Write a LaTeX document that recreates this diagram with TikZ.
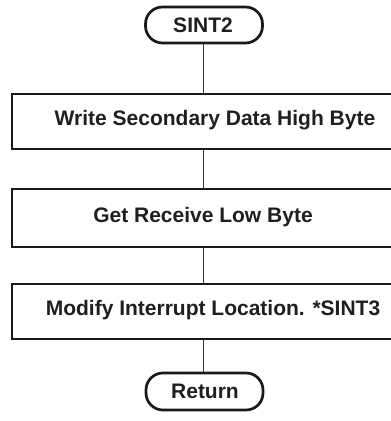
\documentclass[tikz,border=0pt]{standalone}
\usepackage{fontspec}
\setmainfont{Liberation Sans}
\begin{document}
\begin{tikzpicture}[x=1pt,y=1pt,
  terminal/.style={draw=black!90, line width=2.7pt, rounded corners=17pt,
    minimum width=117pt, minimum height=36pt, inner sep=0pt},
  procbox/.style={draw=black!90, line width=2.8pt, minimum width=382pt,
    inner sep=0pt},
  txt/.style={font=\fontsize{21}{24}\selectfont\bfseries, text=black!88, inner sep=0pt},
  flow/.style={draw=black!80, line width=0.9pt}]
  \useasboundingbox (0,0) rectangle (391,421);
  \clip (0,0) rectangle (391,421);

  % start terminal
  \node[terminal] (start) at (204,396) {};
  \node[txt] (tstart) at (203,396) {SINT2};

  % processing steps (right edges run past the frame)
  \node[procbox, minimum height=55pt] (b1) at (203,299.5) {};
  \node[txt] (t1) at (215,300.5) {Write Secondary Data High Byte};

  \node[procbox, minimum height=58pt] (b2) at (203,203) {};
  \node[txt] (t2) at (203,204) {Get Receive Low Byte};

  \node[procbox, minimum height=55pt] (b3) at (203,109.5) {};
  \node[txt] (t3) at (213,110.5) {Modify Interrupt Location. *SINT3};

  % end terminal
  \node[terminal, minimum height=37pt] (stop) at (204.5,29.5) {};
  \node[txt] (tstop) at (205,29.5) {Return};

  % connectors
  \draw[flow] (start.south -| b1.north) -- (b1.north);
  \draw[flow] (b1.south) -- (b2.north);
  \draw[flow] (b2.south) -- (b3.north);
  \draw[flow] (b3.south) -- (b3.south |- stop.north);
\end{tikzpicture}
\end{document}
